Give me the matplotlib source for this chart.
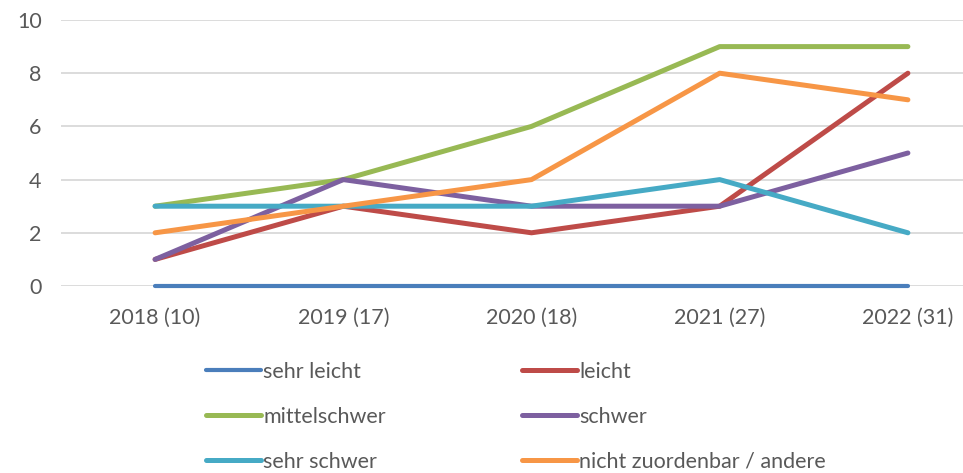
import matplotlib
matplotlib.use("Agg")
import matplotlib.pyplot as plt

plt.rcParams['font.family'] = ['Lato', 'DejaVu Sans']

years = ["2018 (10)", "2019 (17)", "2020 (18)", "2021 (27)", "2022 (31)"]

sehr_leicht = [0, 0, 0, 0, 0]
leicht = [1, 3, 2, 3, 8]
mittelschwer = [3, 4, 6, 9, 9]
schwer = [1, 4, 3, 3, 5]
sehr_schwer = [3, 3, 3, 4, 2]
andere = [2, 3, 4, 8, 7]

series = [
    ("sehr leicht", sehr_leicht, "#4A7EBB"),
    ("leicht", leicht, "#BE4B48"),
    ("mittelschwer", mittelschwer, "#98B954"),
    ("schwer", schwer, "#7D60A0"),
    ("sehr schwer", sehr_schwer, "#46AAC5"),
    ("nicht zuordenbar / andere", andere, "#F79646"),
]

fig = plt.figure(figsize=(9.63, 4.73), dpi=100)
ax = fig.add_axes([61 / 963, (473 - 286) / 473, (1002 - 61) / 963, 266 / 473])

x = range(len(years))
handles = []
for name, vals, col in series:
    lw = 3.0 if name == "sehr leicht" else 3.6
    h, = ax.plot(x, vals, color=col, lw=lw, label=name, clip_on=False,
                 solid_capstyle="round", solid_joinstyle="round", zorder=3)
    handles.append(h)

ax.set_xlim(-0.5, 4.5)
ax.set_ylim(0, 10)
ax.set_yticks(range(0, 11, 2))
ax.set_xticks(list(x))
ax.set_xticklabels(years)
ax.yaxis.grid(True, color="#D9D9D9", lw=1.3)
ax.set_axisbelow(True)
for s in ax.spines.values():
    s.set_visible(False)
ax.tick_params(axis="both", length=0, labelsize=15.5, labelcolor="#595959")
ax.tick_params(axis="y", pad=14)
ax.tick_params(axis="x", pad=16)

# legend is filled row by row in the original
order = [0, 2, 4, 1, 3, 5]
leg = fig.legend([handles[i] for i in order], [series[i][0] for i in order],
                 loc="upper left", bbox_to_anchor=(206 / 963, 1 - 362 / 473),
                 ncol=2, frameon=False, fontsize=15.5, handlelength=2.55,
                 handletextpad=0.12, columnspacing=6.3, labelspacing=1.16,
                 borderaxespad=0, borderpad=0)
for t in leg.get_texts():
    t.set_color("#595959")

fig.savefig("out.png", dpi=100)
